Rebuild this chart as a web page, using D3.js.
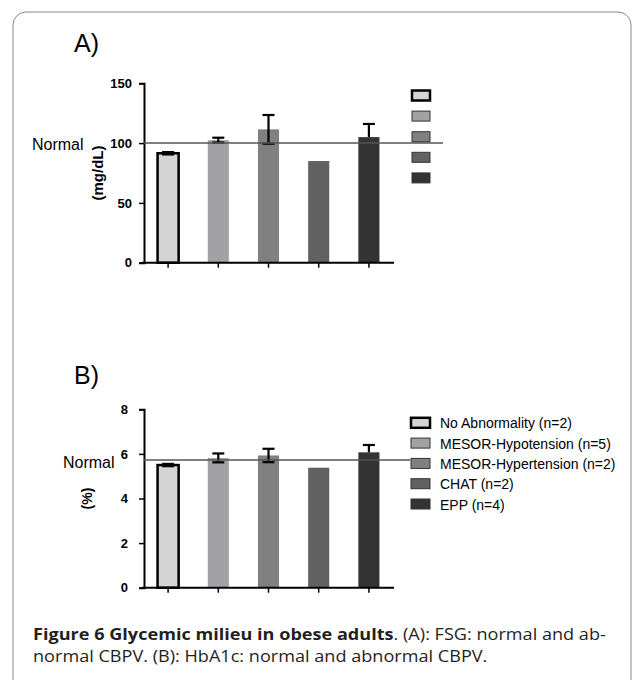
<!DOCTYPE html>
<html>
<head>
<meta charset="utf-8">
<script src="https://cdn.jsdelivr.net/npm/d3@7/dist/d3.min.js"></script>
<style>
  body { margin: 0; background: #fff; }
  svg text { font-family: "Liberation Sans", Arial, sans-serif; }
</style>
</head>
<body>
<script>
var categories = ['No Abnormality (n=2)', 'MESOR-Hypotension (n=5)', 'MESOR-Hypertension (n=2)', 'CHAT (n=2)', 'EPP (n=4)'];
var barColors = ['#d4d4d4', '#a2a2a6', '#808080', '#616161', '#333333'];

// A) fasting serum glucose, mg/dL
var fsgMean = [91.5, 102.5, 111.5, 85, 105];
var fsgErrHigh = [1, 2, 12, 0, 11];
var fsgErrLow = [1, 2, 12, 0, 0];
var fsgTicks = [0, 50, 100, 150];
var fsgNormal = 100;

// B) HbA1c, %
var hbMean = [5.5, 5.82, 5.93, 5.38, 6.07];
var hbErrHigh = [0.05, 0.2, 0.3, 0, 0.33];
var hbErrLow = [0.05, 0.2, 0.3, 0, 0];
var hbTicks = [0, 2, 4, 6, 8];
var hbNormal = 5.73;

var captionBold = 'Figure 6 Glycemic milieu in obese adults';
var captionLine1 = '. (A): FSG: normal and ab-';
var captionLine2 = 'normal CBPV. (B): HbA1c: normal and abnormal CBPV.';

var screen = { width: 634, height: 680 };

var svg = d3.select('body')
            .append('svg')
            .attr('width', screen.width)
            .attr('height', screen.height);

// panel frame (open at the bottom)
svg.append('rect')
   .attr('x', 13).attr('y', 12)
   .attr('width', 618).attr('height', 720)
   .attr('rx', 13)
   .attr('fill', 'none')
   .attr('stroke', '#8a8a8a')
   .attr('stroke-width', 1);

function drawPanel(opt){
  var g = svg.append('g');

  var xScale = d3.scaleBand()
                 .domain(categories)
                 .range([143, 394])
                 .paddingInner(0.58)
                 .paddingOuter(0.29);
  var yScale = d3.scaleLinear()
                 .domain([0, opt.ticks[opt.ticks.length - 1]])
                 .range([opt.bottom, opt.top]);

  // bars
  g.selectAll('rect.bar')
   .data(opt.mean)
   .enter()
   .append('rect')
   .attr('x', function(d, i){ return xScale(categories[i]); })
   .attr('y', function(d){ return yScale(d); })
   .attr('width', xScale.bandwidth())
   .attr('height', function(d){ return yScale(0) - yScale(d); })
   .attr('fill', function(d, i){ return barColors[i]; })
   .attr('stroke', function(d, i){ return i == 0 ? '#000' : 'none'; })
   .attr('stroke-width', 2.5);

  // error bars
  var capW = 12;
  opt.mean.forEach(function(d, i){
    var cx = xScale(categories[i]) + xScale.bandwidth() / 2;
    var hi = d + opt.errHigh[i], lo = d - opt.errLow[i];
    if (hi == lo) return;
    var e = g.append('g').attr('stroke', '#000').attr('stroke-width', 2.2);
    e.append('line').attr('x1', cx).attr('x2', cx).attr('y1', yScale(hi)).attr('y2', yScale(lo));
    e.append('line').attr('x1', cx - capW / 2).attr('x2', cx + capW / 2).attr('y1', yScale(hi)).attr('y2', yScale(hi));
    if (opt.errLow[i] > 0){
      e.append('line').attr('x1', cx - capW / 2).attr('x2', cx + capW / 2).attr('y1', yScale(lo)).attr('y2', yScale(lo));
    }
  });

  // y axis
  var yAxis = d3.axisLeft(yScale)
                .tickValues(opt.ticks)
                .tickSize(5)
                .tickPadding(opt.tickPad)
                .tickFormat(d3.format('d'));
  var ya = g.append('g')
            .attr('transform', 'translate(144,0)')
            .call(yAxis);
  ya.select('.domain').attr('stroke', '#000').attr('stroke-width', 2);
  ya.selectAll('.tick line').attr('stroke', '#000').attr('stroke-width', 1.5);
  ya.selectAll('.tick text')
    .attr('fill', '#000')
    .style('font-size', '13px')
    .style('font-weight', 'bold')
    .style('font-family', '"Liberation Sans", Arial, sans-serif');

  // x axis
  var xAxis = d3.axisBottom(xScale).tickSize(5).tickFormat('');
  var xa = g.append('g')
            .attr('transform', 'translate(0,' + yScale(0) + ')')
            .call(xAxis);
  xa.select('.domain').attr('stroke', '#000').attr('stroke-width', 2)
    .attr('d', 'M142,0H394');
  xa.selectAll('.tick line').attr('stroke', '#000').attr('stroke-width', 1.5);

  // normal reference line
  g.append('line')
   .attr('x1', 144).attr('x2', opt.normalEnd)
   .attr('y1', yScale(opt.normal)).attr('y2', yScale(opt.normal))
   .attr('stroke', '#555').attr('stroke-width', 1.5);

  g.append('text')
   .attr('x', opt.normalX).attr('y', yScale(opt.normal) + opt.normalDy)
   .style('font-size', '16px')
   .attr('fill', '#000')
   .text('Normal');

  // axis title
  g.append('text')
   .attr('transform', 'translate(' + opt.titleX + ',' + ((opt.top + opt.bottom) / 2) + ') rotate(-90)')
   .attr('text-anchor', 'middle')
   .attr('dominant-baseline', 'central')
   .style('font-size', opt.titleSize)
   .style('font-weight', 'bold')
   .text(opt.yTitle);

  // panel letter
  g.append('text')
   .attr('x', 74).attr('y', opt.letterY)
   .style('font-size', '25px')
   .text(opt.letter);

  // legend
  var leg = g.append('g')
             .selectAll('g')
             .data(categories)
             .enter()
             .append('g')
             .attr('transform', function(d, i){ return 'translate(' + opt.legX + ',' + (opt.legY + i * opt.legStep) + ')'; });
  leg.append('rect')
     .attr('x', 0).attr('y', -5)
     .attr('width', opt.legW).attr('height', 10)
     .attr('fill', function(d, i){ return barColors[i]; })
     .attr('stroke', function(d, i){ return i == 0 ? '#000' : '#333'; })
     .attr('stroke-width', function(d, i){ return i == 0 ? 2.5 : 1; });
  if (opt.legLabels){
    leg.append('text')
       .attr('x', 29).attr('y', 5.5)
       .style('font-size', '14px')
       .attr('fill', '#000')
       .text(function(d){ return d; });
  }
}

drawPanel({
  mean: fsgMean, errHigh: fsgErrHigh, errLow: fsgErrLow,
  ticks: fsgTicks, normal: fsgNormal,
  top: 83.3, bottom: 262.7, tickPad: 7,
  normalEnd: 443, normalX: 32, normalDy: 7,
  titleX: 97.5, titleSize: '15px', yTitle: '(mg/dL)',
  letter: 'A)', letterY: 52,
  legX: 412, legY: 95.5, legStep: 20.6, legW: 18, legLabels: false
});

drawPanel({
  mean: hbMean, errHigh: hbErrHigh, errLow: hbErrLow,
  ticks: hbTicks, normal: hbNormal,
  top: 409.3, bottom: 587.7, tickPad: 11,
  normalEnd: 410, normalX: 63, normalDy: 8,
  titleX: 87, titleSize: '14px', yTitle: '(%)',
  letter: 'B)', letterY: 384,
  legX: 411, legY: 422.8, legStep: 20.3, legW: 19, legLabels: true
});

// caption
var cap = svg.append('g').attr('transform', 'translate(33,0)');
var l1 = cap.append('text')
            .attr('x', 0).attr('y', 640)
            .style('font-family', '"Open Sans", "Noto Sans", sans-serif')
            .style('font-size', '16px')
            .attr('fill', '#231f20');
l1.append('tspan').style('font-weight', 'bold').text(captionBold);
l1.append('tspan').text(captionLine1);
var l2 = cap.append('text')
            .attr('x', 0).attr('y', 662)
            .style('font-family', '"Open Sans", "Noto Sans", sans-serif')
            .style('font-size', '16px')
            .attr('fill', '#231f20')
            .text(captionLine2);
var w1 = l1.node().getComputedTextLength();
var sx = 573 / w1;
cap.attr('transform', 'translate(33,0) scale(' + sx + ',1)');
</script>
</body>
</html>
